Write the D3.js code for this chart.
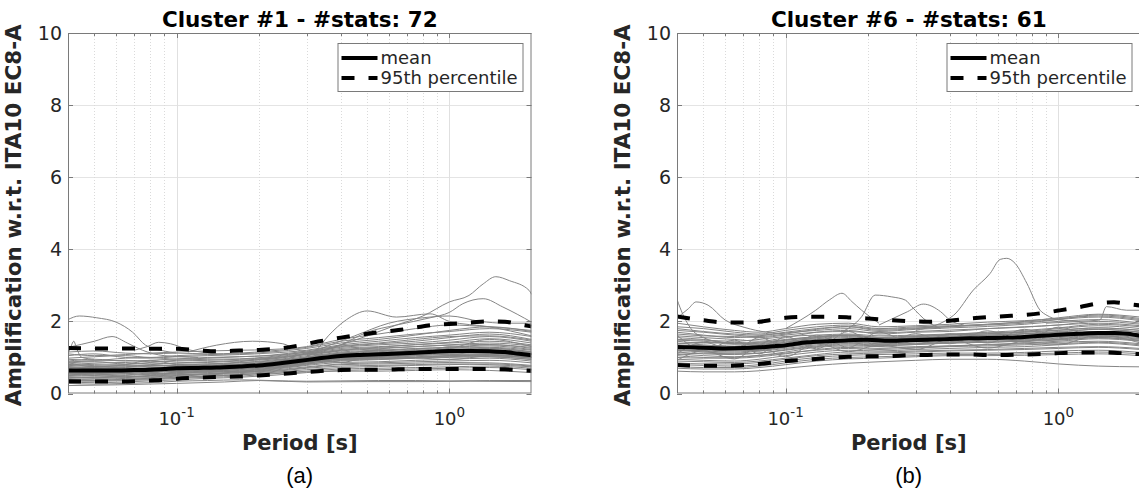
<!DOCTYPE html>
<html>
<head>
<meta charset="utf-8">
<script src="https://cdn.jsdelivr.net/npm/d3@7"></script>
<style>
  html, body { margin: 0; padding: 0; background: #fff; }
  svg { display: block; font-family: "DejaVu Sans", sans-serif; }
</style>
</head>
<body>
<svg id="chart" width="1139" height="493"></svg>
<script>
// ---- data -------------------------------------------------------------
const titles = ["Cluster #1 - #stats: 72", "Cluster #6 - #stats: 61"];
const panelTags = ["(a)", "(b)"];
const yAxisTitle = "Amplification w.r.t. ITA10 EC8-A";
const xAxisTitle = "Period [s]";
const legendLabels = ["mean", "95th percentile"];
const yTicks = [0, 2, 4, 6, 8, 10];
const xMajorTicks = [0.1, 1];
const xMajorExponents = ["-1", "0"];
const xMinorTicks = [0.05, 0.06, 0.07, 0.08, 0.09, 0.2, 0.3, 0.4, 0.5, 0.6, 0.7, 0.8, 0.9, 2];
const periodDomain = [0.04, 2];

// periods at which the summary curves are given
const statPeriods = [0.04, 0.05, 0.06, 0.07, 0.08, 0.09, 0.1, 0.12, 0.14, 0.17, 0.2, 0.24, 0.28,
                     0.33, 0.4, 0.47, 0.55, 0.65, 0.75, 0.87, 1.0, 1.2, 1.4, 1.6, 1.8, 2.0];

const meanA   = [0.64, 0.64, 0.64, 0.65, 0.66, 0.68, 0.70, 0.71, 0.72, 0.75, 0.78, 0.84, 0.90,
                 0.97, 1.04, 1.07, 1.09, 1.11, 1.13, 1.16, 1.18, 1.18, 1.17, 1.15, 1.10, 1.06];
const p95HiA  = [1.26, 1.25, 1.25, 1.25, 1.24, 1.24, 1.24, 1.20, 1.17, 1.19, 1.21, 1.25, 1.33,
                 1.44, 1.55, 1.63, 1.70, 1.76, 1.83, 1.90, 1.93, 1.97, 2.00, 1.99, 1.92, 1.86];
const p95LoA  = [0.34, 0.33, 0.33, 0.34, 0.36, 0.38, 0.41, 0.44, 0.46, 0.47, 0.50, 0.54, 0.58,
                 0.62, 0.65, 0.66, 0.66, 0.67, 0.68, 0.68, 0.68, 0.68, 0.68, 0.67, 0.65, 0.63];

const meanB   = [1.29, 1.27, 1.25, 1.26, 1.28, 1.31, 1.34, 1.42, 1.45, 1.48, 1.49, 1.46, 1.48,
                 1.49, 1.51, 1.53, 1.54, 1.55, 1.57, 1.60, 1.63, 1.66, 1.68, 1.68, 1.66, 1.60];
const p95HiB  = [2.14, 2.03, 1.97, 1.97, 1.99, 2.05, 2.10, 2.13, 2.13, 2.11, 2.08, 2.04, 2.01,
                 1.99, 2.02, 2.08, 2.12, 2.15, 2.18, 2.23, 2.30, 2.40, 2.50, 2.53, 2.48, 2.44];
const p95LoB  = [0.79, 0.77, 0.77, 0.79, 0.82, 0.86, 0.90, 0.94, 0.98, 1.02, 1.03, 1.04, 1.06,
                 1.07, 1.08, 1.08, 1.07, 1.07, 1.08, 1.10, 1.12, 1.14, 1.14, 1.13, 1.11, 1.09];

// periods at which the individual station curves are given
const stationPeriods = [0.04, 0.05, 0.065, 0.08, 0.1, 0.13, 0.17, 0.22, 0.3, 0.4, 0.55, 0.75, 1.0, 1.4, 2.0];

const stationsA = [
  [0.55,0.52,0.55,0.58,0.62,0.64,0.68,0.74,0.88,0.98,1.00,1.05,1.08,1.10,1.02],
  [0.70,0.72,0.68,0.70,0.75,0.78,0.80,0.86,0.98,1.10,1.12,1.18,1.22,1.25,1.15],
  [0.45,0.42,0.44,0.48,0.52,0.55,0.60,0.66,0.78,0.86,0.88,0.92,0.95,0.98,0.90],
  [0.85,0.88,0.82,0.86,0.90,0.92,0.95,1.00,1.12,1.25,1.30,1.35,1.40,1.45,1.35],
  [0.38,0.36,0.40,0.42,0.45,0.48,0.52,0.58,0.66,0.72,0.75,0.78,0.80,0.82,0.76],
  [0.62,0.66,0.70,0.66,0.68,0.72,0.76,0.82,0.95,1.05,1.08,1.12,1.18,1.20,1.10],
  [1.05,1.10,1.00,0.98,1.02,1.05,1.08,1.12,1.20,1.35,1.45,1.55,1.62,1.70,1.58],
  [0.50,0.48,0.52,0.55,0.58,0.60,0.62,0.68,0.80,0.92,0.95,0.98,1.02,1.05,0.98],
  [0.75,0.78,0.80,0.76,0.80,0.82,0.85,0.90,1.02,1.15,1.20,1.25,1.28,1.35,1.28],
  [0.32,0.30,0.32,0.35,0.38,0.42,0.45,0.50,0.58,0.64,0.66,0.68,0.70,0.72,0.66],
  [0.95,0.92,0.98,1.00,0.95,0.98,1.02,1.05,1.15,1.30,1.38,1.45,1.55,1.65,1.50],
  [0.58,0.60,0.56,0.60,0.64,0.66,0.70,0.78,0.92,1.02,1.06,1.10,1.12,1.15,1.08],
  [0.68,0.64,0.66,0.70,0.72,0.70,0.74,0.80,0.90,1.00,1.02,1.06,1.10,1.08,1.00],
  [0.42,0.45,0.48,0.46,0.50,0.54,0.58,0.64,0.74,0.82,0.85,0.88,0.90,0.92,0.85],
  [0.80,0.84,0.86,0.82,0.85,0.88,0.92,0.98,1.10,1.22,1.28,1.36,1.42,1.52,1.40],
  [0.60,0.58,0.62,0.64,0.66,0.68,0.72,0.76,0.86,0.96,0.98,1.02,1.05,1.06,0.98],
  [1.15,1.18,1.12,1.10,1.12,1.10,1.12,1.18,1.28,1.45,1.55,1.65,1.72,1.80,1.70],
  [0.48,0.50,0.46,0.50,0.55,0.58,0.62,0.70,0.84,0.95,0.98,1.00,1.05,1.08,1.00],
  [0.72,0.70,0.74,0.78,0.76,0.78,0.80,0.85,0.96,1.08,1.12,1.16,1.20,1.22,1.12],
  [0.36,0.34,0.36,0.38,0.42,0.45,0.48,0.54,0.62,0.68,0.70,0.72,0.74,0.76,0.70],
  [0.88,0.90,0.92,0.88,0.92,0.95,0.96,1.02,1.15,1.28,1.35,1.40,1.48,1.58,1.45],
  [0.55,0.56,0.58,0.62,0.60,0.62,0.66,0.72,0.84,0.94,0.96,1.00,1.04,1.02,0.95],
  [0.65,0.68,0.64,0.68,0.70,0.74,0.78,0.84,0.98,1.08,1.10,1.14,1.16,1.18,1.10],
  [0.28,0.26,0.28,0.30,0.34,0.36,0.38,0.36,0.34,0.35,0.36,0.36,0.35,0.36,0.36],
  [0.78,0.75,0.72,0.76,0.78,0.82,0.86,0.92,1.05,1.18,1.24,1.30,1.35,1.40,1.32],
  [0.52,0.54,0.50,0.54,0.56,0.60,0.64,0.70,0.82,0.90,0.94,0.98,1.00,1.02,0.94],
  [0.98,1.02,1.05,1.00,1.05,1.08,1.10,1.15,1.25,1.40,1.50,1.62,1.75,1.85,1.72],
  [0.62,0.64,0.66,0.68,0.72,0.76,0.80,0.86,1.00,1.12,1.18,1.24,1.28,1.32,1.22],
  [0.40,0.38,0.42,0.44,0.48,0.52,0.55,0.60,0.70,0.76,0.78,0.80,0.82,0.80,0.74],
  [0.70,0.74,0.76,0.72,0.74,0.78,0.82,0.88,1.00,1.12,1.16,1.20,1.25,1.28,1.20],
  [0.58,0.55,0.58,0.60,0.62,0.65,0.68,0.74,0.86,0.98,1.02,1.08,1.12,1.16,1.08],
  [0.82,0.80,0.78,0.80,0.84,0.86,0.90,0.95,1.08,1.20,1.26,1.30,1.34,1.36,1.25],
  [0.46,0.44,0.46,0.50,0.52,0.54,0.58,0.62,0.72,0.80,0.82,0.84,0.86,0.85,0.78],
  [1.10,1.05,1.08,1.12,1.15,1.18,1.20,1.22,1.30,1.50,1.65,1.80,1.90,1.85,1.75],
  [0.66,0.62,0.60,0.64,0.68,0.72,0.75,0.80,0.92,1.04,1.08,1.10,1.14,1.12,1.04],
  [0.34,0.36,0.38,0.40,0.44,0.48,0.52,0.56,0.60,0.62,0.62,0.64,0.66,0.64,0.58],
  [0.90,0.95,0.90,0.92,0.96,1.00,1.02,1.06,1.18,1.32,1.40,1.50,1.58,1.60,1.48],
  [0.56,0.60,0.64,0.60,0.62,0.64,0.68,0.75,0.88,1.00,1.04,1.10,1.16,1.22,1.14],
  [0.74,0.66,0.58,0.70,0.64,0.80,0.70,0.78,1.10,1.02,1.20,1.08,1.30,1.18,1.12],
  [0.60,0.70,0.62,0.56,0.70,0.62,0.80,0.72,0.82,1.12,1.00,1.22,1.06,1.26,1.16],
  [0.86,0.74,0.80,0.92,0.80,0.74,0.88,0.96,0.92,1.06,1.22,1.12,1.24,1.50,1.30],
  [0.50,0.58,0.66,0.52,0.60,0.70,0.60,0.66,0.92,0.86,1.10,1.00,0.94,1.04,1.00]
];

// stations whose curves leave the main band, each with its own periods
const outlierPeriodsA = [
  [0.04, 0.044, 0.051, 0.06, 0.069, 0.077, 0.09, 0.1],
  [0.04, 0.05, 0.058, 0.066, 0.075, 0.09, 0.12],
  [0.07, 0.078, 0.086, 0.095, 0.11, 0.14],
  [0.11, 0.14, 0.19, 0.245, 0.275, 0.32, 0.4],
  [0.2, 0.3, 0.4, 0.5, 0.64, 0.8, 1.0, 1.18, 1.33, 1.48, 1.66, 1.96, 2.0],
  [0.3, 0.4, 0.5, 0.64, 0.85, 1.0, 1.12, 1.33, 1.57, 2.0],
  [0.25, 0.32, 0.36, 0.42, 0.5, 0.64, 0.85, 1.0, 1.4, 2.0],
  [0.3, 0.45, 0.6, 0.8, 1.0, 1.3, 1.6, 2.0],
  [0.04, 0.06, 0.1, 0.15, 0.2, 0.3, 0.5, 0.8, 1.2, 2.0],
  [0.04, 0.041, 0.042, 0.043, 0.045, 0.05]
];
const outlierValuesA = [
  [2.05, 2.15, 2.10, 1.98, 1.70, 1.34, 1.18, 1.12],
  [1.28, 1.45, 1.58, 1.40, 1.20, 1.05, 1.00],
  [1.20, 1.30, 1.42, 1.38, 1.22, 1.10],
  [1.15, 1.34, 1.45, 1.38, 1.22, 1.12, 1.20],
  [0.95, 1.10, 1.35, 1.60, 1.90, 2.15, 2.54, 2.72, 3.04, 3.24, 3.13, 2.86, 2.75],
  [1.05, 1.35, 1.70, 1.90, 2.10, 2.25, 2.49, 2.63, 2.40, 1.98],
  [0.85, 1.15, 1.60, 2.05, 2.29, 2.12, 2.21, 2.00, 1.85, 1.60],
  [1.10, 1.60, 1.95, 2.10, 2.15, 2.00, 1.95, 1.95],
  [0.22, 0.24, 0.28, 0.32, 0.36, 0.32, 0.33, 0.33, 0.34, 0.33],
  [1.10, 1.30, 1.45, 1.25, 1.00, 0.95]
];

const stationsB = [
  [1.30,1.25,1.20,1.25,1.35,1.45,1.50,1.42,1.45,1.50,1.55,1.58,1.62,1.70,1.62],
  [1.60,1.55,1.50,1.45,1.55,1.70,1.75,1.65,1.70,1.72,1.80,1.85,1.90,2.00,1.92],
  [0.95,0.92,0.90,0.95,1.05,1.15,1.20,1.18,1.22,1.25,1.28,1.30,1.35,1.40,1.32],
  [1.85,1.80,1.70,1.65,1.75,1.85,1.90,1.80,1.85,1.88,1.92,2.00,2.10,2.20,2.12],
  [1.15,1.10,1.08,1.12,1.20,1.30,1.35,1.32,1.36,1.40,1.42,1.46,1.50,1.55,1.48],
  [0.75,0.72,0.72,0.76,0.85,0.95,1.00,1.02,1.05,1.08,1.08,1.10,1.12,1.15,1.10],
  [1.45,1.40,1.42,1.38,1.48,1.55,1.60,1.52,1.58,1.62,1.65,1.70,1.75,1.82,1.75],
  [1.05,1.00,0.98,1.02,1.10,1.22,1.28,1.25,1.30,1.32,1.35,1.38,1.42,1.45,1.38],
  [1.70,1.62,1.55,1.60,1.68,1.75,1.80,1.72,1.78,1.82,1.86,1.92,2.00,2.05,1.95],
  [1.25,1.30,1.35,1.28,1.30,1.38,1.42,1.40,1.44,1.48,1.50,1.52,1.58,1.62,1.55],
  [0.62,0.60,0.60,0.63,0.70,0.78,0.84,0.88,0.92,0.95,0.95,0.90,0.82,0.76,0.74],
  [1.35,1.32,1.28,1.32,1.42,1.55,1.62,1.55,1.52,1.58,1.62,1.66,1.70,1.78,1.70],
  [1.95,1.85,1.75,1.70,1.80,1.92,1.95,1.85,1.88,1.92,1.98,2.02,2.08,2.15,2.05],
  [0.85,0.82,0.82,0.86,0.95,1.05,1.10,1.12,1.15,1.18,1.20,1.22,1.25,1.28,1.22],
  [1.20,1.15,1.12,1.18,1.28,1.40,1.45,1.38,1.40,1.44,1.48,1.50,1.55,1.60,1.52],
  [1.50,1.48,1.45,1.50,1.58,1.62,1.65,1.60,1.62,1.65,1.68,1.72,1.80,1.88,1.80],
  [1.10,1.05,1.02,1.06,1.15,1.28,1.32,1.30,1.28,1.32,1.36,1.40,1.45,1.52,1.45],
  [1.40,1.35,1.30,1.35,1.45,1.52,1.58,1.50,1.55,1.58,1.60,1.65,1.68,1.72,1.65],
  [0.80,0.78,0.76,0.80,0.90,1.00,1.06,1.08,1.10,1.12,1.12,1.14,1.18,1.20,1.14],
  [1.65,1.60,1.58,1.55,1.62,1.70,1.72,1.68,1.72,1.76,1.80,1.84,1.90,1.95,1.88],
  [1.00,0.98,1.00,1.05,1.12,1.20,1.25,1.22,1.26,1.30,1.32,1.35,1.38,1.42,1.35],
  [1.55,1.50,1.40,1.42,1.50,1.58,1.62,1.56,1.60,1.64,1.70,1.75,1.82,1.92,1.85],
  [1.28,1.22,1.18,1.22,1.32,1.42,1.48,1.44,1.46,1.50,1.52,1.55,1.60,1.65,1.58],
  [0.90,0.88,0.86,0.90,0.98,1.08,1.15,1.15,1.18,1.20,1.22,1.25,1.28,1.30,1.25],
  [1.75,1.70,1.62,1.58,1.65,1.78,1.85,1.75,1.80,1.85,1.90,1.95,2.05,2.12,2.02],
  [1.18,1.20,1.22,1.18,1.25,1.35,1.40,1.36,1.38,1.42,1.45,1.48,1.52,1.58,1.50],
  [1.38,1.42,1.38,1.40,1.48,1.58,1.62,1.55,1.58,1.62,1.66,1.70,1.76,1.82,1.75],
  [0.70,0.68,0.68,0.72,0.80,0.90,0.96,0.98,1.02,1.05,1.05,1.06,1.08,1.10,1.05],
  [1.48,1.45,1.38,1.35,1.42,1.50,1.55,1.50,1.55,1.58,1.62,1.66,1.72,1.78,1.70],
  [1.08,1.12,1.10,1.12,1.22,1.32,1.38,1.34,1.36,1.40,1.42,1.45,1.48,1.55,1.46],
  [1.80,1.72,1.65,1.62,1.70,1.80,1.86,1.78,1.82,1.86,1.92,1.98,2.06,2.18,2.08],
  [1.22,1.18,1.15,1.20,1.30,1.42,1.50,1.46,1.48,1.52,1.55,1.58,1.62,1.68,1.60],
  [1.10,1.42,1.20,1.55,1.30,1.62,1.28,1.70,1.36,1.66,1.40,1.78,1.50,1.72,1.58],
  [1.62,1.20,1.48,1.10,1.58,1.24,1.72,1.30,1.66,1.38,1.74,1.42,1.84,1.56,1.70],
  [0.92,1.18,0.96,1.30,1.02,1.40,1.16,1.34,1.22,1.50,1.26,1.44,1.36,1.62,1.40]
];

const outlierPeriodsB = [
  [0.04, 0.042, 0.045, 0.05, 0.06],
  [0.04, 0.044, 0.047, 0.052, 0.06, 0.071, 0.085, 0.1],
  [0.1, 0.129, 0.145, 0.161, 0.175, 0.19, 0.22],
  [0.16, 0.19, 0.213, 0.245, 0.275, 0.29, 0.33, 0.37],
  [0.22, 0.28, 0.32, 0.37, 0.4, 0.45],
  [0.3, 0.413, 0.488, 0.562, 0.612, 0.647, 0.694, 0.766, 0.857, 0.907, 1.0, 1.2],
  [0.9, 1.2, 1.42, 1.5, 1.78, 2.0]
];
const outlierValuesB = [
  [2.61, 2.20, 1.80, 1.55, 1.40],
  [2.10, 2.35, 2.54, 2.45, 2.04, 1.83, 1.70, 1.65],
  [1.80, 2.31, 2.60, 2.78, 2.55, 2.31, 1.95],
  [1.70, 2.13, 2.73, 2.68, 2.59, 2.41, 2.00, 1.80],
  [1.90, 2.27, 2.48, 2.27, 2.04, 1.90],
  [1.75, 2.17, 2.87, 3.33, 3.72, 3.75, 3.61, 3.06, 2.31, 2.17, 2.05, 2.00],
  [1.95, 2.00, 2.04, 2.41, 2.31, 2.31]
];

// ---- layout -------------------------------------------------------------
const svg = d3.select("#chart");
const plotTop = 33, plotBottom = 393.5, plotWidth = 463.5;
const panels = [
  { left: 68, title: titles[0], tag: panelTags[0], mean: meanA, hi: p95HiA, lo: p95LoA,
    stations: stationsA, oT: outlierPeriodsA, oV: outlierValuesA },
  { left: 677, title: titles[1], tag: panelTags[1], mean: meanB, hi: p95HiB, lo: p95LoB,
    stations: stationsB, oT: outlierPeriodsB, oV: outlierValuesB }
];

const axisColor = "#262626";

panels.forEach((p, i) => {
  const L = p.left, R = L + plotWidth;
  const x = d3.scaleLog().domain(periodDomain).range([L, R]);
  const y = d3.scaleLinear().domain([0, 10]).range([plotBottom, plotTop]);
  const g = svg.append("g");

  const clipId = "clip" + i;
  svg.append("defs").append("clipPath").attr("id", clipId)
    .append("rect").attr("x", L).attr("y", plotTop).attr("width", plotWidth).attr("height", plotBottom - plotTop);

  // grid
  const grid = g.append("g");
  grid.selectAll("line.ymaj").data(yTicks.filter(v => v > 0 && v < 10)).join("line")
    .attr("x1", L).attr("x2", R).attr("y1", d => Math.round(y(d)) + 0.5).attr("y2", d => Math.round(y(d)) + 0.5)
    .attr("stroke", "#e4e4e4").attr("stroke-width", 1);
  grid.selectAll("line.xmaj").data(xMajorTicks).join("line")
    .attr("x1", d => Math.round(x(d)) + 0.5).attr("x2", d => Math.round(x(d)) + 0.5)
    .attr("y1", plotTop).attr("y2", plotBottom)
    .attr("stroke", "#e0e0e0").attr("stroke-width", 1);
  grid.selectAll("line.xmin").data(xMinorTicks.filter(v => v < 2)).join("line")
    .attr("x1", d => Math.round(x(d)) + 0.5).attr("x2", d => Math.round(x(d)) + 0.5)
    .attr("y1", plotTop).attr("y2", plotBottom)
    .attr("stroke", "#dadada").attr("stroke-width", 1).attr("stroke-dasharray", "1,2");

  // station curves
  const line = d3.line().x(d => x(d[0])).y(d => y(d[1])).curve(d3.curveMonotoneX);
  const data = g.append("g").attr("clip-path", `url(#${clipId})`);
  const curves = p.stations.map(vals => vals.map((v, k) => [stationPeriods[k], v]))
    .concat(p.oT.map((ts, k) => ts.map((t, j) => [t, p.oV[k][j]])));
  data.selectAll("path.station").data(curves).join("path")
    .attr("d", line).attr("fill", "none").attr("stroke", "#858585").attr("stroke-width", 1);

  // 95th percentile bounds and mean
  const toPts = arr => arr.map((v, k) => [statPeriods[k], v]);
  data.selectAll("path.p95").data([p.hi, p.lo]).join("path")
    .attr("d", d => line(toPts(d))).attr("fill", "none").attr("stroke", "#000")
    .attr("stroke-width", 4).attr("stroke-dasharray", "13,14").attr("stroke-linecap", "butt");
  data.append("path").attr("d", line(toPts(p.mean))).attr("fill", "none")
    .attr("stroke", "#000").attr("stroke-width", 4);

  // axes box
  g.append("rect").attr("x", L + 0.5).attr("y", plotTop + 0.5)
    .attr("width", plotWidth - 1).attr("height", plotBottom - plotTop - 1)
    .attr("fill", "none").attr("stroke", "#7a7a7a").attr("stroke-width", 1);

  // tick marks (inside, on all four sides)
  const ticks = g.append("g").attr("stroke", "#7a7a7a").attr("stroke-width", 1);
  xMajorTicks.concat(xMinorTicks.filter(v => v < 2)).forEach(v => {
    const len = xMajorTicks.includes(v) ? 5 : 3;
    const xx = Math.round(x(v)) + 0.5;
    ticks.append("line").attr("x1", xx).attr("x2", xx).attr("y1", plotBottom).attr("y2", plotBottom - len);
    ticks.append("line").attr("x1", xx).attr("x2", xx).attr("y1", plotTop).attr("y2", plotTop + len);
  });
  yTicks.forEach(v => {
    const yy = Math.round(y(v)) + 0.5;
    ticks.append("line").attr("x1", L).attr("x2", L + 5).attr("y1", yy).attr("y2", yy);
    ticks.append("line").attr("x1", R).attr("x2", R - 5).attr("y1", yy).attr("y2", yy);
  });

  // y tick labels
  g.selectAll("text.yt").data(yTicks).join("text")
    .attr("x", L - 6).attr("y", d => y(d)).attr("dy", "0.36em")
    .attr("text-anchor", "end").attr("font-size", 19).attr("fill", axisColor)
    .text(d => d);

  // x tick labels (powers of ten)
  xMajorTicks.forEach((v, k) => {
    const t = g.append("text").attr("x", x(v)).attr("y", 425)
      .attr("text-anchor", "middle").attr("font-size", 18).attr("fill", axisColor);
    t.append("tspan").text("10");
    t.append("tspan").attr("dy", -8).attr("font-size", 13.5).text(xMajorExponents[k]);
  });

  // titles
  g.append("text").attr("x", L + plotWidth / 2).attr("y", 27).attr("text-anchor", "middle")
    .attr("font-size", 21.5).attr("font-weight", "bold").attr("fill", "#000").text(p.title);
  g.append("text").attr("x", L + plotWidth / 2).attr("y", 450).attr("text-anchor", "middle")
    .attr("font-size", 21).attr("font-weight", "bold").attr("fill", axisColor).text(xAxisTitle);
  g.append("text").attr("transform", `translate(${L - 47},${(plotTop + plotBottom) / 2 + 2}) rotate(-90)`)
    .attr("text-anchor", "middle").attr("font-size", 21.5).attr("font-weight", "bold")
    .attr("fill", axisColor).text(yAxisTitle);
  g.append("text").attr("x", L + plotWidth / 2).attr("y", 483).attr("text-anchor", "middle")
    .attr("font-family", "'Liberation Sans', Arial, sans-serif").attr("font-size", 22)
    .attr("fill", "#000").text(p.tag);

  // legend
  const lgR = R - 9, lgL = lgR - 185, lgT = 43, lgB = 91;
  const lg = g.append("g");
  lg.append("rect").attr("x", lgL + 0.5).attr("y", lgT + 0.5).attr("width", lgR - lgL).attr("height", lgB - lgT)
    .attr("fill", "#fff").attr("stroke", "#7a7a7a").attr("stroke-width", 1);
  const rows = [{ y: 58, dash: null }, { y: 78, dash: "13,14" }];
  rows.forEach((r, k) => {
    const ln = lg.append("line").attr("x1", lgL + 4).attr("x2", lgL + 40)
      .attr("y1", r.y).attr("y2", r.y).attr("stroke", "#000").attr("stroke-width", 4);
    if (r.dash) ln.attr("stroke-dasharray", r.dash);
    lg.append("text").attr("x", lgL + 43).attr("y", r.y).attr("dy", "0.36em")
      .attr("font-size", 18).attr("fill", axisColor).text(legendLabels[k]);
  });
});
</script>
</body>
</html>
